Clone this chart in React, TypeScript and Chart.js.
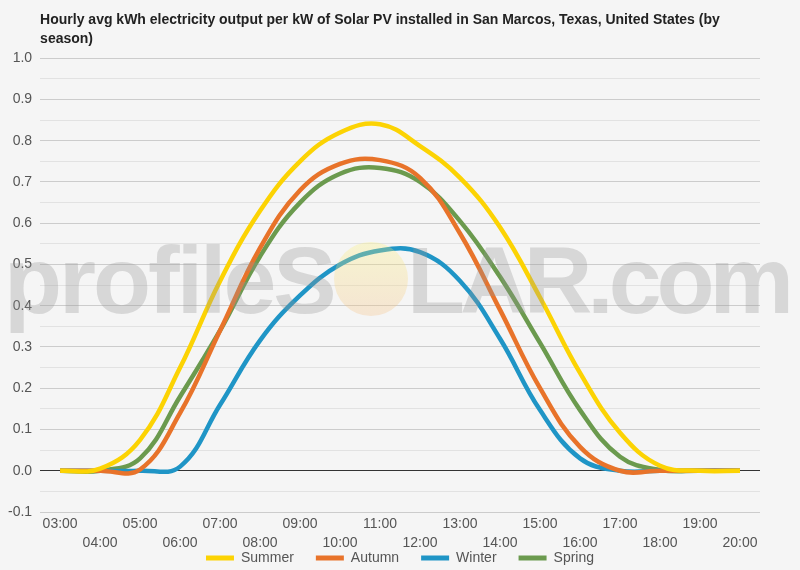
import { useEffect, useRef } from "react";
import Chart from "chart.js/auto";

const hours = [
  "03:00", "04:00", "05:00", "06:00", "07:00", "08:00", "09:00", "10:00", "11:00",
  "12:00", "13:00", "14:00", "15:00", "16:00", "17:00", "18:00", "19:00", "20:00",
];
const summer = [0, 0.005, 0.075, 0.25, 0.46, 0.63, 0.75, 0.82, 0.84, 0.787, 0.71, 0.59, 0.42, 0.237, 0.092, 0.012, 0, 0];
const autumn = [0, 0, 0.003, 0.14, 0.34, 0.54, 0.68, 0.744, 0.753, 0.71, 0.575, 0.39, 0.2, 0.058, 0, 0, 0, 0];
const winter = [0, 0, 0, 0.01, 0.16, 0.316, 0.425, 0.5, 0.534, 0.53, 0.46, 0.32, 0.147, 0.03, 0, 0, 0, 0];
const spring = [0, 0, 0.03, 0.18, 0.34, 0.52, 0.65, 0.72, 0.734, 0.7, 0.605, 0.47, 0.31, 0.147, 0.034, 0.002, 0, 0];

const titleLines = [
  "Hourly avg kWh electricity output per kW of Solar PV installed in San Marcos, Texas, United States (by",
  "season)",
];

const FONT = "'Liberation Sans', Arial, sans-serif";

// background fill + watermark on top of everything (semi transparent)
const backgroundPlugin = {
  id: "bg",
  beforeDraw(chart: any) {
    // let the staggered x labels run past the (squeezed) axis box
    if (chart.scales.x) chart.scales.x._computeLabelArea = () => undefined;
    const ctx = chart.ctx;
    ctx.save();
    ctx.fillStyle = "#f5f5f5";
    ctx.fillRect(0, 0, chart.width, chart.height);
    ctx.restore();
  },
  afterDraw(chart: Chart) {
    const ctx: any = chart.ctx;
    ctx.save();
    ctx.font = `bold 95px ${FONT}`;
    ctx.textBaseline = "alphabetic";
    ctx.fillStyle = "rgba(150, 150, 150, 0.31)";
    ctx.letterSpacing = "-3px";
    ctx.fillText("profileS", 4, 313);
    ctx.letterSpacing = "-5px";
    ctx.fillText("LAR.com", 407, 313);
    const grad = ctx.createLinearGradient(0, 242, 0, 317);
    grad.addColorStop(0, "rgba(250, 242, 120, 0.3)");
    grad.addColorStop(1, "rgba(245, 190, 130, 0.3)");
    ctx.fillStyle = grad;
    ctx.beginPath();
    ctx.arc(371, 279, 37, 0, Math.PI * 2);
    ctx.fill();
    ctx.restore();
  },
};

export default function App() {
  const canvasRef = useRef<HTMLCanvasElement>(null);
  const chartRef = useRef<Chart | null>(null);

  useEffect(() => {
    document.body.style.margin = "0";
    if (!canvasRef.current) return;
    if (chartRef.current) chartRef.current.destroy();

    const line = (label: string, data: number[], color: string) => ({
      label,
      data,
      borderColor: color,
      backgroundColor: color,
      borderWidth: 4.5,
      pointRadius: 0,
      tension: 0.4,
      fill: false,
    });

    chartRef.current = new Chart(canvasRef.current, {
      type: "line",
      data: {
        labels: hours,
        datasets: [
          line("Summer", summer, "#fcd303"),
          line("Autumn", autumn, "#e8732a"),
          line("Winter", winter, "#1f95c6"),
          line("Spring", spring, "#6b9a4e"),
        ],
      },
      options: {
        animation: false,
        responsive: false,
        layout: { padding: { left: 0, right: 0, top: 4, bottom: -5 } },
        plugins: {
          title: {
            display: true,
            fullSize: false,
            text: titleLines,
            align: "start",
            color: "#222",
            font: { family: FONT, size: 14, weight: "bold", lineHeight: 1.4 },
            padding: { top: 6, bottom: 9 },
          },
          legend: {
            position: "bottom",
            labels: {
              boxWidth: 28,
              boxHeight: 5,
              padding: 22,
              color: "#555",
              font: { family: FONT, size: 14 },
              generateLabels: (chart: any) =>
                Chart.defaults.plugins.legend.labels
                  .generateLabels(chart)
                  .map((item: any) => ({ ...item, lineWidth: 0 })),
            },
          },
          tooltip: { enabled: false },
        },
        scales: {
          x: {
            offset: true,
            grid: { display: false, drawTicks: false },
            border: { display: false },
            afterFit: (s: any) => {
              s.height = 17;
            },
            ticks: {
              autoSkip: false,
              maxRotation: 0,
              color: "#555",
              padding: 3,
              font: { family: FONT, size: 14, lineHeight: 1.35 },
              callback: (_v: any, i: number) => (i % 2 === 0 ? [hours[i]] : ["", hours[i]]),
            },
          },
          y: {
            min: -0.1,
            max: 1.0,
            border: { display: false },
            grid: {
              drawTicks: false,
              lineWidth: 1,
              color: (c: any) => {
                const v = Math.round(c.tick.value * 100);
                if (v === 0) return "#333";
                return v % 10 === 0 ? "#cccccc" : "#e2e2e2";
              },
            },
            ticks: {
              stepSize: 0.05,
              autoSkip: false,
              color: "#555",
              padding: 8,
              font: { family: FONT, size: 14 },
              callback: (v: any) => {
                const n = Math.round(Number(v) * 100);
                return n % 10 === 0 ? (n / 100).toFixed(1) : "";
              },
            },
          },
          // empty right axis, only keeps a 40px margin on the right
          yRight: {
            position: "right",
            display: true,
            grid: { display: false, drawTicks: false },
            border: { display: false },
            ticks: { display: false },
            afterFit: (s: any) => {
              s.width = 40;
            },
          },
        },
      },
      plugins: [backgroundPlugin],
    });

    return () => {
      if (chartRef.current) {
        chartRef.current.destroy();
        chartRef.current = null;
      }
    };
  }, []);

  return (
    <div style={{ width: 800, height: 570, background: "#f5f5f5" }}>
      <canvas ref={canvasRef} width={800} height={570} style={{ width: 800, height: 570 }} />
    </div>
  );
}
